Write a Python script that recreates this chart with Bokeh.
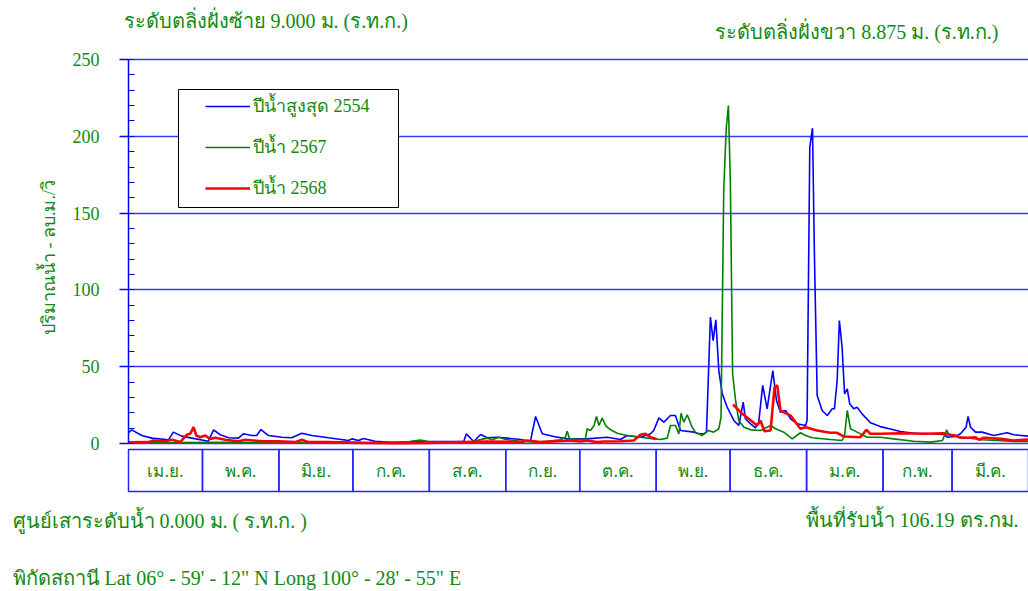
import math
from bokeh.plotting import figure
from bokeh.models import (Range1d, FixedTicker, Label, BoxAnnotation, Legend, LegendItem,
                          ColumnDataSource)
from bokeh.core.properties import value
from bokeh.embed import file_html
from bokeh.resources import INLINE

NAN = float("nan")

# ---------------- data (day of water year, from 1 April; flow in m3/s) ----------------
months = ["เม.ย.", "พ.ค.", "มิ.ย.", "ก.ค.", "ส.ค.", "ก.ย.", "ต.ค.", "พ.ย.", "ธ.ค.", "ม.ค.", "ก.พ.", "มี.ค."]
month_days = [30, 31, 30, 31, 31, 30, 31, 30, 31, 31, 28, 31]

y_ticks = [0, 50, 100, 150, 200, 250]

blue_x = [0, 1.3, 5.4, 9.4, 16.2, 18.2, 21.6, 25.7, 32.4, 34.5, 37.2, 40.6, 44.6, 46.6, 50, 52,
          53.7, 56.8, 62.2, 66.2, 70.3, 74.3, 81.1, 89.2, 90.6, 93.3, 95.3, 100, 108.2, 113.6,
          117.6, 121.7, 136, 137, 140, 142.8, 145.5, 149.5, 153.6, 159, 163, 165.1, 167.8,
          172.5, 177.9, 186, 194.1, 199.5, 202.2, 207.6, 211.7, 213, 215.1, 217.1, 219.8,
          221.8, 223.9, 229.3, 231.3, 233.3, 234.4, 236, 237.1, 238.2, 239.4, 240.8, 242.8,
          245.5, 247.5, 249.3, 250.2, 252.3, 254.3, 255.6, 257.2, 259, 261.3, 262.8, 264.4,
          266.5, 268.5, 271.2, 274.6, 275.2, 276.3, 277.4, 278.2, 279.3, 281.3, 283.4, 285.4,
          286.3, 287.4, 288.3, 289.4, 290.4, 291.5, 292.5, 294.1, 295.5, 297.5, 300.9, 304.9,
          309, 313, 318.5, 325.3, 330.6, 332, 335.4, 337.4, 339.7, 340.5, 341.5, 343.5, 346.2,
          350.9, 356.4, 359, 365]
blue_y = [7.0, 8.9, 5.2, 3.5, 2.4, 7.4, 4.8, 3.5, 1.5, 8.9, 5.7, 3.7, 3.5, 6.3, 5.2, 5.2,
          9.1, 5.2, 4.1, 3.7, 6.7, 5.2, 3.7, 2.0, 3.0, 2.0, 3.2, 1.5, 0.7, 1.1,
          1.7, 1.3, 1.5, 6.3, 1.3, 5.9, 3.7, 4.1, 3.5, 2.6, 1.5, 17.6, 6.3,
          4.6, 3.0, 3.0, 4.1, 2.6, 5.2, 4.1, 6.3, 8.5, 16.7, 13.9, 18.2,
          18.2, 8.5, 7.4, 6.3, 6.3, 7.4, 82.3, 67.0, 80.5, 47.5, 32.3, 23.6,
          15.0, 11.7, 26.9, 16.1, 12.8, 10.2, 13.9, 37.8, 22.6, 47.5, 28.0, 20.4,
          21.5, 16.1, 12.8, 11.7, 15.0, 192.9, 205.3, 121.0, 31.3, 21.5, 18.2, 22.6,
          22.6, 41.0, 80.1, 62.7, 32.3, 35.6, 25.8, 22.6, 23.6, 19.3, 13.5, 11.0,
          9.5, 7.8, 6.7, 6.3, 5.9, 4.1, 4.6, 6.3, 10.6, 17.6, 10.6, 7.4, 7.4,
          5.2, 7.0, 5.7, 4.8]

green_x = [0, 20, 40, 60, 80, 100, 110, 113.6, 116.8, 118.4, 122.1, 138.7, 144.1, 145.5, 147.5,
           150.2, 152.9, 159, 165.8, 169.8, 175.2, 177.2, 177.9, 178.9, 183.3, 185.3, 186, 187.4,
           188.8, 189.8, 190.8, 192.1, 193.5, 195.5, 198.2, 202.2, 207.6, 213, 215.7, 218.5,
           219.8, 221.8, 223.2, 224.1, 225.2, 226.6, 228.6, 229.9, 232.6, 235.3, 237.3, 239.4,
           240.3, 241.4, 242.4, 243.3, 244.1, 245, 246.2, 247.5, 249.6, 252.3, 256.3, 260.4,
           262.4, 265.8, 269.2, 272.5, 274.6, 277.3, 284.6, 289.4, 290.4, 291.5, 292.8, 295.5,
           299.5, 304.9, 310.3, 318.5, 325.3, 330.1, 331.1, 331.8, 332.5, 335.4, 340.2, 345.6,
           352.4, 359, 365]
green_y = [0.5, 0.6, 0.8, 0.6, 0.7, 0.6, 0.9, 1.0, 2.0, 2.2, 0.9, 0.9, 3.0, 3.5, 2.4,
           4.1, 2.6, 1.5, 0.9, 1.5, 2.4, 4.1, 8.0, 3.0, 2.6, 3.0, 9.6, 8.5,
           11.7, 17.6, 11.7, 16.5, 11.7, 8.9, 6.7, 5.2, 4.1, 3.0, 2.6, 3.5,
           11.7, 11.7, 6.3, 19.7, 13.9, 18.7, 10.6, 7.4, 5.2, 8.5, 7.4, 9.6,
           17.1, 164.7, 204.9, 220.0, 169.0, 45.4, 28.0, 15.0, 10.6, 8.9, 8.5, 11.7,
           9.6, 7.4, 3.0, 7.0, 5.2, 3.7, 2.6, 2.0, 5.2, 21.5, 9.6, 7.4,
           4.1, 4.1, 3.0, 1.5, 0.9, 2.0, 5.7, 8.9, 6.3, 4.6, 3.7, 2.4,
           2.0, 1.3, 1.3]

red_x = [0, 8.1, 10.1, 14.9, 17.6, 21, 23.6, 25, 26.4, 27.5, 29.1, 31.1, 33.1, 35.2, 39.2,
         44.6, 47.3, 54.1, 60.8, 67.6, 70.3, 73, 81.1, 94.6, 108.2, 121.7, 145.5, 159, 161.7,
         167.1, 179.3, 183.3, 186, 190, 192.7, 199.5, 204.9, 207.6, 209.6, 211.7, 214.1,
         230,
         245.2, 248.2, 251.5, 254.9, 256.3, 257.9, 260.4, 262, 263.1, 264.4, 267.1, 268.5,
         272.5, 274.6, 279.3, 284.6, 287.3, 290, 296.8, 299.3, 300.9, 304.9, 313, 322.5,
         330.6, 332, 335.4, 337.4, 340.2, 343.5, 344.9, 346.9, 353.7, 359, 365]
red_y = [0.8, 0.9, 2.0, 1.5, 2.4, 0.9, 5.7, 6.3, 10.6, 5.2, 4.1, 5.2, 3.0, 3.7, 2.4,
         1.5, 2.4, 1.5, 1.5, 0.9, 2.4, 0.9, 0.9, 0.4, 0.2, 0.4, 1.3, 0.9, 2.0,
         0.9, 2.0, 1.3, 2.0, 0.9, 1.3, 1.5, 2.0, 5.7, 6.3, 4.1, 3.0,
         NAN,
         25.4, 20.4, 16.1, 11.7, 15.0, 8.0, 8.5, 36.7, 37.8, 21.5, 19.3, 18.2,
         9.6, 10.6, 8.5, 7.0, 7.0, 4.6, 4.1, 8.9, 6.3, 6.3, 6.7, 6.3,
         6.7, 5.9, 5.2, 3.7, 3.7, 4.1, 2.4, 3.7, 3.0, 2.0, 2.6]

series_labels = ["ปีน้ำสูงสุด 2554", "ปีน้ำ 2567", "ปีน้ำ 2568"]

title_left = "ระดับตลิ่งฝั่งซ้าย 9.000 ม. (ร.ท.ก.)"
title_right = "ระดับตลิ่งฝั่งขวา 8.875 ม. (ร.ท.ก.)"
y_label = "ปริมาณน้ำ - ลบ.ม./วิ"
foot_left = "ศูนย์เสาระดับน้ำ 0.000 ม. ( ร.ท.ก. )"
foot_right = "พื้นที่รับน้ำ 106.19 ตร.กม."
foot_coord = "พิกัดสถานี Lat 06° - 59' - 12\" N Long 100° - 28' - 55\" E"

# ---------------- layout helpers (page pixels -> data units) ----------------
W, H = 1028, 591
X_PX = 900 / 365.0             # px per day (plot body spans page x 128..1028)
Y_PX = 1.536                   # px per m3/s
ZERO_PAGE = 443                # page y of value 0


def dx(px):
    return (px - 128) / X_PX


def dy(py):
    return (ZERO_PAGE - py) / Y_PX


GREEN = "#118a11"
BLUE = "#0000ff"
SERIF = "Liberation Serif"

p = figure(width=W, height=H, output_backend="svg", toolbar_location=None,
           x_range=Range1d(dx(0), dx(W)), y_range=Range1d(dy(H), dy(0)),
           x_axis_type=None, min_border_left=0, min_border_right=0,
           min_border_top=0, min_border_bottom=0)
p.outline_line_color = None
p.background_fill_color = "white"
p.border_fill_color = "white"

# y axis, drawn at day 0 inside the frame
yax = p.yaxis[0]
yax.fixed_location = 0
yax.bounds = (0, 250)
yax.ticker = FixedTicker(ticks=y_ticks, minor_ticks=[v for v in range(0, 251, 10)])
yax.axis_line_color = BLUE
yax.axis_line_width = 1.5
yax.major_tick_line_color = BLUE
yax.major_tick_line_width = 1.5
yax.major_tick_out = 9
yax.major_tick_in = 0
yax.minor_tick_line_color = BLUE
yax.minor_tick_in = 6
yax.minor_tick_out = 0
yax.major_label_standoff = 20
yax.major_label_text_color = GREEN
yax.major_label_text_font = SERIF
yax.major_label_text_font_size = "18px"

p.ygrid.ticker = FixedTicker(ticks=y_ticks)
p.ygrid.grid_line_color = "#3a3aff"
p.ygrid.grid_line_width = 1.5
p.ygrid.bounds = (0, 250)
p.ygrid.cross_bounds = (0, dx(W))

# month band
edges = [0]
for d in month_days:
    edges.append(edges[-1] + d)
band = ColumnDataSource(dict(
    left=edges[:-1], right=edges[1:],
    mid=[(a + b) / 2 for a, b in zip(edges[:-1], edges[1:])],
    name=months))
p.quad(left="left", right="right", top=dy(449), bottom=dy(491), source=band,
       fill_color=None, line_color="#2525ff", line_width=1.5)
p.text(x="mid", y=dy(470), text="name", source=band, text_align="center",
       text_baseline="middle", text_color=GREEN, text_font=value("Noto Sans"),
       text_font_size="17px")

# series
r_blue = p.line(blue_x, blue_y, line_color=BLUE, line_width=1.6)
r_green = p.line(green_x, green_y, line_color="#008000", line_width=1.6)
r_red = p.line(red_x, red_y, line_color="#ff0000", line_width=2.6)

# legend box + legend
p.add_layout(BoxAnnotation(left=dx(178), right=dx(398), top=dy(89), bottom=dy(207),
                           fill_color="white", fill_alpha=1.0, line_color="black",
                           line_width=1, line_alpha=1.0))
legend = Legend(items=[LegendItem(label=series_labels[0], renderers=[r_blue]),
                       LegendItem(label=series_labels[1], renderers=[r_green]),
                       LegendItem(label=series_labels[2], renderers=[r_red])],
                location=(205, H - 202), padding=0, margin=0, spacing=12,
                glyph_width=45, glyph_height=20, label_height=20, label_standoff=3,
                label_text_font=SERIF, label_text_font_size="18px",
                label_text_color=GREEN, background_fill_alpha=0, border_line_alpha=0)
p.add_layout(legend)

# texts
def add_text(txt, px, py, align, size="20px", angle=0.0):
    p.add_layout(Label(x=dx(px), y=dy(py), text=txt, text_align=align,
                       text_baseline="middle", text_color=GREEN, text_font=SERIF,
                       text_font_size=size, angle=angle))


add_text(title_left, 123, 20, "left")
add_text(title_right, 998, 31, "right")
add_text(y_label, 48, 257, "center", size="18px", angle=math.pi / 2)
add_text(foot_left, 12, 520, "left")
add_text(foot_right, 1018, 519, "right")
add_text(foot_coord, 12, 577, "left")

open("out.html", "w").write(file_html(p, INLINE))
